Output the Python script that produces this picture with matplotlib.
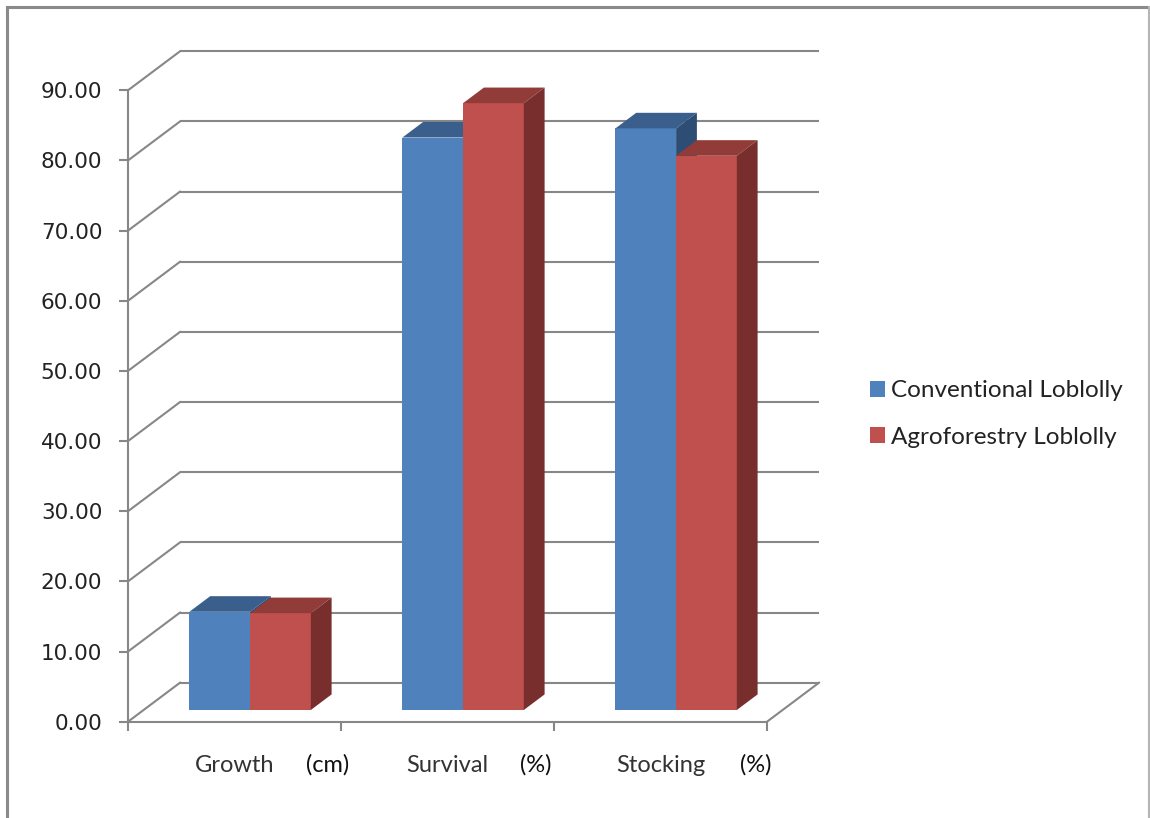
import matplotlib.pyplot as plt
from matplotlib.patches import Polygon, Patch
from matplotlib.lines import Line2D

categories = ['Growth', 'Survival', 'Stocking']
units = ['(cm)', '(%)', '(%)']
series_names = ['Conventional Loblolly', 'Agroforestry Loblolly']
conventional = [14.0, 81.6, 82.9]
agroforestry = [13.8, 86.5, 79.0]
y_ticks = [0, 10, 20, 30, 40, 50, 60, 70, 80, 90]

W, H = 1150, 818
fig = plt.figure(figsize=(W / 100, H / 100), dpi=100)

# front plane of the 3d box, in pixels
x_left, x_right = 128, 767
y_bot, y_top = 721.7, 90.3
ax = fig.add_axes([x_left / W, 1 - y_bot / H, (x_right - x_left) / W, (y_bot - y_top) / H])
ax.set_xlim(0, 3)
ax.set_ylim(0, 90)

# depth offset of the back wall, converted to data units
px_x = (x_right - x_left) / 3
px_y = (y_bot - y_top) / 90
DX = 52 / px_x
DY = 39 / px_y

grid_c = '#878787'
grid_lw = 1.5

# back wall and left wall gridlines
for v in y_ticks:
    ax.plot([DX, 3 + DX], [v + DY, v + DY], color=grid_c, lw=grid_lw, zorder=1, clip_on=False,
            solid_capstyle='butt')
    ax.plot([0, DX], [v, v + DY], color=grid_c, lw=grid_lw, zorder=1, clip_on=False)
# right edge of the floor
ax.plot([3, 3 + DX], [0, DY], color=grid_c, lw=grid_lw, zorder=1, clip_on=False)

colors = [
    ('#4F81BD', '#3A5F8C', '#2E4D75'),
    ('#C0504D', '#923C3A', '#772E2C'),
]

bar_w = 0.285
start = 0.215
z0, z1 = 0.3, 0.7

for i in range(3):
    for j, vals in enumerate([conventional, agroforestry]):
        v = vals[i]
        front, top, side = colors[j]
        x0 = i + start + j * bar_w
        x1 = x0 + bar_w
        bx, by = z0 * DX, z0 * DY
        fx, fy = z1 * DX, z1 * DY
        ax.add_patch(Polygon([(x0 + bx, by), (x1 + bx, by), (x1 + bx, v + by), (x0 + bx, v + by)],
                             closed=True, facecolor=front, edgecolor='none', zorder=3, clip_on=False))
        ax.add_patch(Polygon([(x0 + bx, v + by), (x1 + bx, v + by), (x1 + fx, v + fy), (x0 + fx, v + fy)],
                             closed=True, facecolor=top, edgecolor='none', zorder=3, clip_on=False))
        ax.add_patch(Polygon([(x1 + bx, by), (x1 + fx, fy), (x1 + fx, v + fy), (x1 + bx, v + by)],
                             closed=True, facecolor=side, edgecolor='none', zorder=3, clip_on=False))

# axes
for s in ['top', 'right']:
    ax.spines[s].set_visible(False)
for s in ['left', 'bottom']:
    ax.spines[s].set_color(grid_c)
    ax.spines[s].set_linewidth(grid_lw)
ax.set_facecolor('none')
ax.set_yticks(y_ticks)
ax.set_yticklabels(['%.2f' % t for t in y_ticks])
ax.set_xticks([0, 1, 2, 3])
ax.set_xticklabels([])
ax.tick_params(axis='y', direction='out', length=6.5, width=grid_lw, color=grid_c, pad=12,
               labelsize=15.5, labelcolor='#222222')
ax.tick_params(axis='x', direction='out', length=6.5, width=grid_lw, color=grid_c)
for lbl in ax.get_yticklabels():
    lbl.set_family('DejaVu Sans')

# category labels with units set off to the right
label_y = -(765 - y_bot) / px_y
unit_off = [93, 88, 95]
for i in range(3):
    ax.text(i + 0.5, label_y, categories[i], ha='center', va='center', fontsize=17,
            family='Lato', color='#333333')
    ax.text(i + 0.5 + unit_off[i] / px_x, label_y, units[i], ha='center', va='center', fontsize=17,
            family='Lato', color='#111111')

handles = [Patch(facecolor=colors[k][0], edgecolor='none') for k in range(2)]
leg = fig.legend(handles, series_names, loc='center left', bbox_to_anchor=(848 / W, 1 - 414 / H),
                 frameon=False, prop={'family': 'Lato', 'size': 17.5}, handlelength=0.62,
                 handleheight=0.62, handletextpad=0.25, labelspacing=1.05)
for t in leg.get_texts():
    t.set_color('#222222')

# outer chart border
fig.add_artist(Line2D([7 / W, 1149 / W], [1 - 7 / H, 1 - 7 / H], transform=fig.transFigure,
                      color='#8a8a8a', lw=2.2))
fig.add_artist(Line2D([7 / W, 7 / W], [1 - 7 / H, 0], transform=fig.transFigure,
                      color='#8a8a8a', lw=2.2))
fig.add_artist(Line2D([1149 / W, 1149 / W], [1 - 7 / H, 0], transform=fig.transFigure,
                      color='#b5b5b5', lw=1.5))

fig.savefig('out.png', dpi=100)
